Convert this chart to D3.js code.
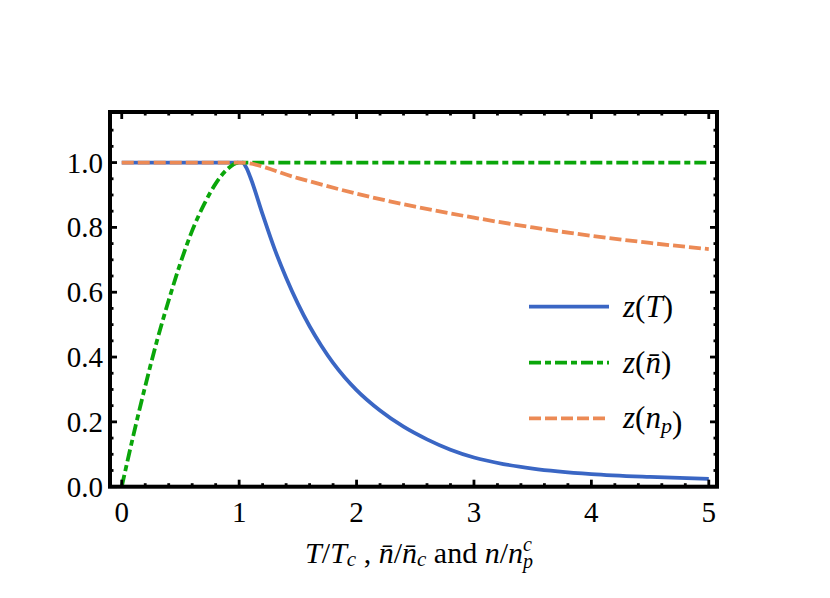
<!DOCTYPE html>
<html>
<head>
<meta charset="utf-8">
<script src="https://cdn.jsdelivr.net/npm/d3@7"></script>
<style>
  body { margin: 0; background: #fff; }
  svg text { font-family: "Liberation Serif", "Times New Roman", "DejaVu Serif", serif; fill: #000; }
</style>
</head>
<body>
<div id="chart"></div>
<script>
// values
var zT = [[0,1],[0.5,1],[1,1],[1.03,1],[1.06,0.985],[1.1,0.95],[1.2,0.84],[1.3,0.735],[1.4,0.645],
  [1.5,0.565],[1.6,0.495],[1.7,0.435],[1.8,0.382],[1.9,0.337],[2,0.298],[2.2,0.235],[2.4,0.185],
  [2.6,0.146],[2.8,0.114],[3,0.09],[3.25,0.07],[3.5,0.056],[4,0.039],[4.5,0.03],[5,0.024]]
var zN = [[0,0],[0.1,0.16],[0.2,0.31],[0.3,0.45],[0.4,0.575],[0.5,0.69],[0.6,0.79],
  [0.7,0.87],[0.8,0.935],[0.9,0.98],[1,1],[2,1],[3,1],[4,1],[5,1]]
var zNp = [[0,1],[0.5,1],[1,1],[1.5,0.952],[2,0.904],[2.5,0.864],[3,0.83],[3.5,0.8],
  [4,0.774],[4.5,0.752],[5,0.733]]

var xTicks = [0,1,2,3,4,5]
var yTicks = [0,0.2,0.4,0.6,0.8,1.0]

var series = [
  {name:"T",  data:zT,  color:"#3a66c4", dash:null},
  {name:"n",  data:zN,  color:"#0aa60a", dash:"12,4,6,4"},
  {name:"np", data:zNp, color:"#ec8a55", dash:"12,4"}
]

var width = 830, height = 598
var FONT = "'Liberation Serif', 'Times New Roman', serif"

var svg = d3.select("#chart").append("svg")
  .attr("width", width)
  .attr("height", height)
  .attr("font-family", FONT)

var x = d3.scaleLinear().domain([-0.1, 5.07]).range([110, 717])
var y = d3.scaleLinear().domain([0, 1.156]).range([486.7, 112])

var xMinor = d3.range(0, 5.01, 0.2).filter(function(v){ return Math.abs(v - Math.round(v)) > 1e-6 })
var yMinor = d3.range(0, 1.14, 0.05).filter(function(v){ return Math.abs(v*5 - Math.round(v*5)) > 1e-6 })

var line = d3.line()
  .x(function(d){ return x(d[0]) })
  .y(function(d){ return y(d[1]) })
  .curve(d3.curveMonotoneX)

var plot = svg.append("g")

series.forEach(function(s){
  plot.append("path")
    .attr("d", line(s.data))
    .attr("fill", "none")
    .attr("stroke", s.color)
    .attr("stroke-width", 3.8)
    .attr("stroke-dasharray", s.dash)
})

// frame ticks, inward on all four sides
var ticks = svg.append("g").attr("stroke", "#000").attr("stroke-width", 2.8)
function tickX(v, len){
  ticks.append("line").attr("x1", x(v)).attr("x2", x(v)).attr("y1", y.range()[0]).attr("y2", y.range()[0]-len)
  ticks.append("line").attr("x1", x(v)).attr("x2", x(v)).attr("y1", y.range()[1]).attr("y2", y.range()[1]+len)
}
function tickY(v, len){
  ticks.append("line").attr("y1", y(v)).attr("y2", y(v)).attr("x1", x.range()[0]).attr("x2", x.range()[0]+len)
  ticks.append("line").attr("y1", y(v)).attr("y2", y(v)).attr("x1", x.range()[1]).attr("x2", x.range()[1]-len)
}
xTicks.forEach(function(v){ tickX(v, 7) })
xMinor.forEach(function(v){ tickX(v, 3.5) })
yTicks.forEach(function(v){ tickY(v, 7) })
yMinor.forEach(function(v){ tickY(v, 3.5) })

svg.append("rect")
  .attr("x", x.range()[0]).attr("y", y.range()[1])
  .attr("width", x.range()[1]-x.range()[0])
  .attr("height", y.range()[0]-y.range()[1])
  .attr("fill", "none").attr("stroke", "#000").attr("stroke-width", 4)

// tick labels
svg.append("g").selectAll("text").data(xTicks).enter().append("text")
  .attr("x", function(d){ return x(d) })
  .attr("y", 522)
  .attr("text-anchor", "middle")
  .style("font-size", "29px")
  .text(function(d){ return d })

svg.append("g").selectAll("text").data(yTicks).enter().append("text")
  .attr("x", 103)
  .attr("y", function(d){ return y(d) + 10 })
  .attr("text-anchor", "end")
  .style("font-size", "29px")
  .text(function(d){ return d.toFixed(1) })

// axis title
var title = svg.append("text")
  .attr("x", 419).attr("y", 563)
  .attr("text-anchor", "middle")
  .style("font-size", "30px")
title.append("tspan").style("font-style", "italic").text("T")
title.append("tspan").text("/")
title.append("tspan").style("font-style", "italic").text("T")
title.append("tspan").style("font-style", "italic").style("font-size", "21px").attr("dy", 3).text("c")
title.append("tspan").attr("dy", -3).text(" , ")
title.append("tspan").style("font-style", "italic").text("n\u0304")
title.append("tspan").text("/")
title.append("tspan").style("font-style", "italic").text("n\u0304")
title.append("tspan").style("font-style", "italic").style("font-size", "21px").attr("dy", 3).text("c")
title.append("tspan").attr("dy", -3).text(" and ")
title.append("tspan").style("font-style", "italic").text("n")
title.append("tspan").text("/")
title.append("tspan").style("font-style", "italic").text("n")
title.append("tspan").style("font-style", "italic").style("font-size", "20px").attr("dy", -12).text("c")
title.append("tspan").style("font-style", "italic").style("font-size", "20px").attr("dx", -9).attr("dy", 17).text("p")

// legend
var legendY = [306.7, 362.7, 418.3]
var legend = svg.append("g")
series.forEach(function(s, i){
  legend.append("line")
    .attr("x1", 529).attr("x2", 609)
    .attr("y1", legendY[i]).attr("y2", legendY[i])
    .attr("stroke", s.color).attr("stroke-width", 3.8)
    .attr("stroke-dasharray", s.dash)
  var t = legend.append("text")
    .attr("x", 623).attr("y", legendY[i] + 10)
    .style("font-size", "31px")
  t.append("tspan").style("font-style", "italic").text("z")
  t.append("tspan").text("(")
  if (s.name == "T") {
    t.append("tspan").style("font-style", "italic").text("T")
  } else if (s.name == "n") {
    t.append("tspan").style("font-style", "italic").text("n\u0304")
  } else {
    t.append("tspan").style("font-style", "italic").text("n")
    t.append("tspan").style("font-style", "italic").style("font-size", "22px").attr("dy", 5).text("p")
    t.append("tspan").attr("dy", -5).text("")
  }
  t.append("tspan").text(")")
})
</script>
</body>
</html>
